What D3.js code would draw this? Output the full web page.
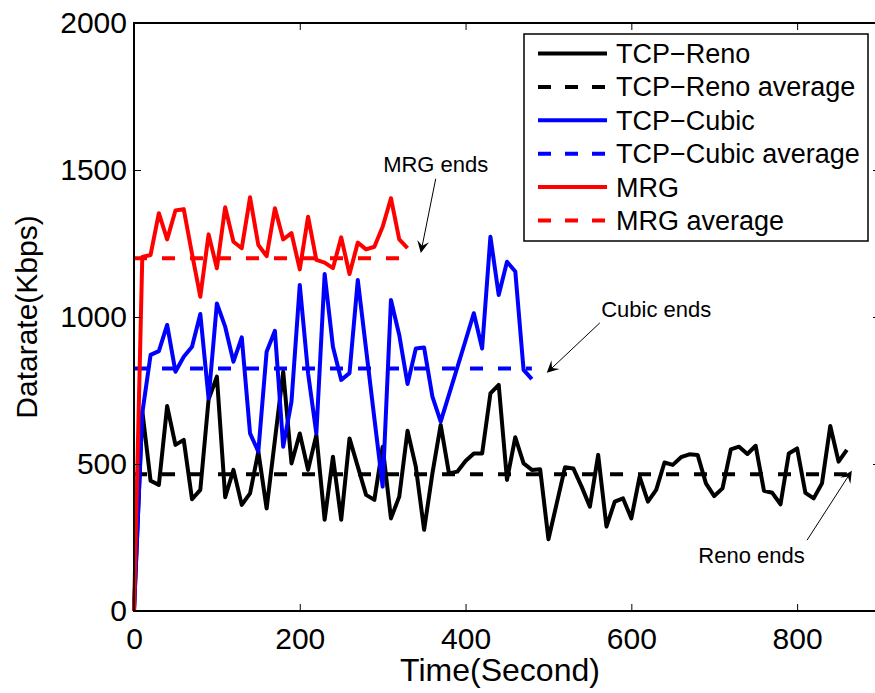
<!DOCTYPE html>
<html>
<head>
<meta charset="utf-8">
<script src="https://cdn.jsdelivr.net/npm/d3@7"></script>
<style>
    body { margin: 0; background: #fff; }
    svg { display: block; font-family: "Liberation Sans", Arial, sans-serif; }
</style>
</head>
<body>
<div id="chart"></div>
<script>
// Sample times (seconds), one sample every 10 s
const renoTime = d3.range(0, 861, 10);
const cubicTime = d3.range(0, 481, 10);
const mrgTime = d3.range(0, 331, 10);

// Datarate samples (Kbps)
const renoValues = [
    0, 680, 443, 429, 697, 565, 582, 380, 412, 720,
    797, 387, 480, 361, 400, 542, 349, 582, 814, 502,
    604, 480, 599, 310, 525, 310, 587, 491, 395, 378,
    559, 315, 389, 613, 491, 276, 468, 633, 468, 474,
    510, 536, 536, 740, 769, 446, 591, 502, 480, 482,
    244, 366, 489, 485, 423, 355, 531, 287, 372, 383,
    315, 457, 372, 412, 505, 497, 523, 533, 531, 434,
    391, 417, 550, 559, 534, 562, 409, 402, 363, 536,
    553, 402, 383, 434, 629, 508, 548,
];
const cubicValues = [
    0, 673, 871, 884, 973, 814, 865, 899, 1010, 723,
    1046, 967, 848, 931, 604, 542, 882, 953, 559, 712,
    1109, 809, 604, 1146, 899, 786, 809, 1126, 890, 655,
    423, 1058, 939, 772, 893, 896, 729, 644, 736, 828,
    920, 1013, 893, 1273, 1075, 1188, 1155, 820, 789,
];
const mrgValues = [
    0, 1204, 1211, 1353, 1264, 1362, 1367, 1215, 1069, 1281,
    1166, 1373, 1256, 1234, 1407, 1245, 1207, 1370, 1264, 1285,
    1162, 1341, 1194, 1185, 1166, 1271, 1146, 1253, 1230, 1239,
    1307, 1404, 1264, 1234,
];

// Average rates (Kbps)
const renoAverage = 465;
const cubicAverage = 825;
const mrgAverage = 1200;

// Axis ticks
const xTicks = [0, 200, 400, 600, 800];
const yTicks = [0, 500, 1000, 1500, 2000];

// Series table used for drawing and legend
const series = [
    { name: "TCP\u2212Reno", time: renoTime, values: renoValues, avg: renoAverage, color: "#000000" },
    { name: "TCP\u2212Cubic", time: cubicTime, values: cubicValues, avg: cubicAverage, color: "#0000ff" },
    { name: "MRG", time: mrgTime, values: mrgValues, avg: mrgAverage, color: "#ff0000" },
];

// Text annotations with arrows (data coordinates)
const notes = [
    { text: "MRG ends", tx: 364, ty: 1493, from: [364, 1470], to: [346, 1218] },
    { text: "Cubic ends", tx: 630, ty: 1000, from: [562, 980], to: [498, 810] },
    { text: "Reno ends", tx: 745, ty: 163, from: [812, 241], to: [866, 477] },
];

const width = 875;
const height = 693;
const margin = { top: 23, right: -5, bottom: 82, left: 134 };
const innerW = width - margin.left - margin.right;
const innerH = height - margin.top - margin.bottom;

const svg = d3
.select("#chart")
.append("svg")
.attr("width", width)
.attr("height", height);

const g = svg
.append("g")
.attr("transform", `translate(${margin.left}, ${margin.top})`);

const x = d3.scaleLinear().domain([0, 900]).range([0, innerW]);
const y = d3.scaleLinear().domain([0, 2000]).range([innerH, 0]);

// Data lines
const line = d3
.line()
.x((d) => x(d[0]))
.y((d) => y(d[1]));

series.forEach((s) => {
    const pts = s.time.map((t, i) => [t, s.values[i]]);
    g.append("path")
    .datum(pts)
    .attr("fill", "none")
    .attr("stroke", s.color)
    .attr("stroke-width", 4)
    .attr("stroke-linejoin", "round")
    .attr("d", line);
    
    // Average as a dashed line over the same time span
    const span = d3.extent(s.time);
    g.append("path")
    .datum([[span[0], s.avg], [span[1], s.avg]])
    .attr("fill", "none")
    .attr("stroke", s.color)
    .attr("stroke-width", 4)
    .attr("stroke-dasharray", "13,15")
    .attr("d", line);
});

// Axes with inward ticks (box style)
const axisFont = (sel) => sel.selectAll("text").style("font-size", "30px").attr("fill", "#000");

g.append("g")
.attr("transform", `translate(0, ${innerH})`)
.call(d3.axisBottom(x).tickValues(xTicks).tickSize(-7).tickSizeOuter(0).tickPadding(17).tickFormat(d3.format("d")))
.call(axisFont);

g.append("g")
.call(d3.axisTop(x).tickValues(xTicks).tickSize(-7).tickSizeOuter(0).tickFormat(""));

g.append("g")
.call(d3.axisLeft(y).tickValues(yTicks).tickSize(-7).tickSizeOuter(0).tickPadding(7).tickFormat(d3.format("d")))
.call(axisFont);

g.append("g")
.attr("transform", `translate(${innerW}, 0)`)
.call(d3.axisRight(y).tickValues(yTicks).tickSize(-7).tickSizeOuter(0).tickFormat(""));

g.selectAll(".domain").remove();
g.selectAll(".tick line").attr("stroke", "#000").attr("stroke-width", 1);

g.append("rect")
.attr("width", innerW)
.attr("height", innerH)
.attr("fill", "none")
.attr("stroke", "#000")
.attr("stroke-width", 2);

// Axis titles
svg.append("text")
.attr("x", 500)
.attr("y", 681)
.attr("text-anchor", "middle")
.style("font-size", "32px")
.text("Time(Second)");

svg.append("text")
.attr("transform", `translate(37, ${margin.top + innerH / 2}) rotate(-90)`)
.attr("text-anchor", "middle")
.style("font-size", "30px")
.text("Datarate(Kbps)");

// Annotations
notes.forEach((n) => {
    svg.append("text")
    .attr("x", margin.left + x(n.tx))
    .attr("y", margin.top + y(n.ty))
    .attr("text-anchor", "middle")
    .style("font-size", "22px")
    .text(n.text);
    
    const x1 = margin.left + x(n.from[0]);
    const y1 = margin.top + y(n.from[1]);
    const x2 = margin.left + x(n.to[0]);
    const y2 = margin.top + y(n.to[1]);
    const ang = Math.atan2(y2 - y1, x2 - x1);
    const len = 12;
    const half = 6;
    // Shaft stops at the head
    svg.append("line")
    .attr("x1", x1)
    .attr("y1", y1)
    .attr("x2", x2 - Math.cos(ang) * len * 0.6)
    .attr("y2", y2 - Math.sin(ang) * len * 0.6)
    .attr("stroke", "#000")
    .attr("stroke-width", 1);
    
    const bx = x2 - Math.cos(ang) * len;
    const by = y2 - Math.sin(ang) * len;
    const px = -Math.sin(ang) * half;
    const py = Math.cos(ang) * half;
    const mx = x2 - Math.cos(ang) * len * 0.6;
    const my = y2 - Math.sin(ang) * len * 0.6;
    svg.append("path")
    .attr("d", `M${x2},${y2}L${bx + px},${by + py}L${mx},${my}L${bx - px},${by - py}Z`)
    .attr("fill", "#000");
});

// Legend
const legendRows = [];
series.forEach((s) => {
    legendRows.push({ label: s.name, color: s.color, dash: null });
    legendRows.push({ label: `${s.name} average`, color: s.color, dash: "13,14" });
});

const legend = svg.append("g").attr("transform", "translate(524, 34)");

legend
.append("rect")
.attr("width", 344)
.attr("height", 207)
.attr("fill", "#fff")
.attr("stroke", "#000")
.attr("stroke-width", 1.5);

const rowY = (i) => 19.5 + i * 33.4;

legend
.selectAll("line.sample")
.data(legendRows)
.enter()
.append("line")
.attr("class", "sample")
.attr("x1", 14)
.attr("x2", 83)
.attr("y1", (d, i) => rowY(i))
.attr("y2", (d, i) => rowY(i))
.attr("stroke", (d) => d.color)
.attr("stroke-width", 4)
.attr("stroke-dasharray", (d) => d.dash);

legend
.selectAll("text")
.data(legendRows)
.enter()
.append("text")
.attr("x", 92)
.attr("y", (d, i) => rowY(i) + 9.5)
.style("font-size", "27px")
.text((d) => d.label);
</script>
</body>
</html>
